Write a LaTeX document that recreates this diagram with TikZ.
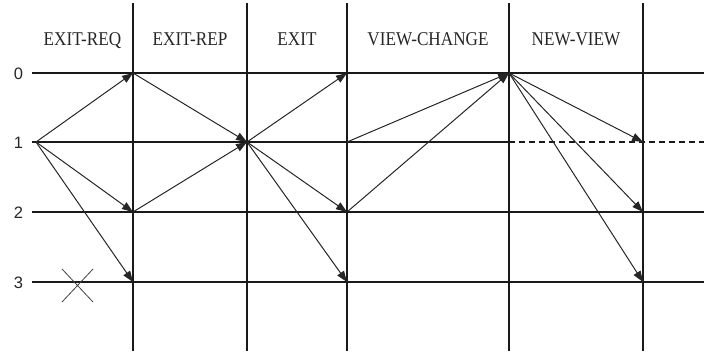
\documentclass[tikz,border=0pt]{standalone}
\usepackage{fontspec}
\setmainfont{Liberation Serif}
\newfontfamily\numfont{Liberation Sans}
\usetikzlibrary{arrows.meta}
\begin{document}
\begin{tikzpicture}[x=1pt,y=-1pt,
  gridline/.style={line width=1.1pt, draw=black!90},
  msg/.style={line width=1pt, draw=black!85, -{Triangle[length=11pt,width=8pt]}},
  head/.style={font=\fontsize{19.5}{22}\selectfont, inner sep=0, anchor=base, text=black!85},
  rowlbl/.style={font=\numfont\fontsize{16.5}{18}\selectfont, inner sep=0, anchor=base, text=black!85}]
\useasboundingbox (0,0) rectangle (704,351);
% grid coordinates
\foreach \c/\x in {1/133,2/247,3/347,4/509,5/643}{
  \foreach \r/\y in {0/73,1/142,2/212,3/282}{
    \coordinate (p\r\c) at (\x,\y);
  }
  \coordinate (top\c) at (\x,3);
  \coordinate (bot\c) at (\x,351);
}
\foreach \r/\y in {0/73,1/142,2/212,3/282}{
  \coordinate (left\r) at (32,\y);
  \coordinate (right\r) at (704,\y);
}
\coordinate (s1) at (36,142);
% vertical lines
\foreach \c in {1,...,5}{ \draw[gridline] (top\c) -- (bot\c); }
% horizontal lines
\draw[gridline] (left0) -- (right0);
\draw[gridline] (left1) -- (p14);
\draw[gridline, dash pattern=on 6pt off 4pt] (p14) -- (right1);
\draw[gridline] (left2) -- (right2);
\draw[gridline] (left3) -- (right3);
% headers
\node[head] (h1) at (82.5,45) {\scalebox{0.88}[1]{EXIT-REQ}};
\node[head] (h2) at (190,45) {\scalebox{0.88}[1]{EXIT-REP}};
\node[head] (h3) at (297,45) {\scalebox{0.88}[1]{EXIT}};
\node[head] (h4) at (428,45) {\scalebox{0.88}[1]{VIEW-CHANGE}};
\node[head] (h5) at (576,45) {\scalebox{0.88}[1]{NEW-VIEW}};
% row labels
\node[rowlbl] (l0) at (18.5,79) {0};
\node[rowlbl] (l1) at (18.5,148) {1};
\node[rowlbl] (l2) at (18.5,218) {2};
\node[rowlbl] (l3) at (18.5,288) {3};
% crash cross
\coordinate (xa) at (62,269);
\coordinate (xb) at (93,302);
\coordinate (xc) at (62,302);
\coordinate (xd) at (93,269);
\draw[line width=0.8pt, draw=black!75] (xa) -- (xb) (xc) -- (xd);
% EXIT-REQ
\draw[msg] (s1) -- (p01);
\draw[msg] (s1) -- (p21);
\draw[msg] (s1) -- (p31);
% EXIT-REP
\draw[msg] (p01) -- (p12);
\draw[msg] (p21) -- (p12);
% EXIT
\draw[msg] (p12) -- (p03);
\draw[msg] (p12) -- (p23);
\draw[msg] (p12) -- (p33);
% VIEW-CHANGE
\draw[msg] (p13) -- (p04);
\draw[msg] (p23) -- (p04);
% NEW-VIEW
\draw[msg] (p04) -- (p15);
\draw[msg] (p04) -- (p25);
\draw[msg] (p04) -- (p35);
\end{tikzpicture}
\end{document}
